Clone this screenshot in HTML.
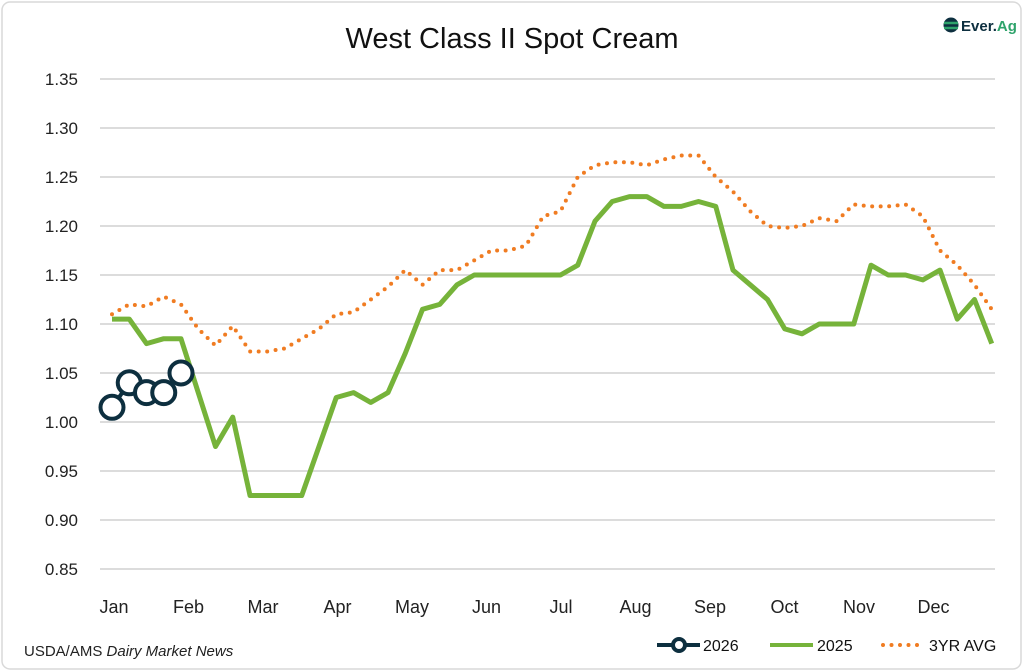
<!DOCTYPE html>
<html><head><meta charset="utf-8"><style>
body{margin:0;background:#fff;font-family:"Liberation Sans",sans-serif;}
#wrap{position:relative;width:1024px;height:672px;overflow:hidden;}
</style></head><body>
<div id="wrap">
<svg id="chart" width="1024" height="672" xmlns="http://www.w3.org/2000/svg">
<rect x="2" y="2" width="1019" height="667" rx="8" fill="#fff" stroke="#d9d9d9" stroke-width="1.5"/>
<text x="512" y="48" text-anchor="middle" font-size="29" fill="#111">West Class II Spot Cream</text>
<g>
<circle cx="951" cy="25" r="7.5" fill="#0d2f3f"/>
<path d="M944 23 h14 M944 28 h14" stroke="#2ea36b" stroke-width="2.5"/>
<text x="961" y="31" font-size="15" font-weight="bold" fill="#0d2f3f">Ever.<tspan fill="#2ea36b">Ag</tspan></text>
</g>
<g id="grid"></g><g id="ylabels"></g><g id="xlabels"></g><g id="series"></g>
<text x="24" y="656" font-size="15" fill="#222">USDA/AMS <tspan font-style="italic">Dairy Market News</tspan></text>
<g>
<g><line x1="657" y1="645" x2="700" y2="645" stroke="#0d2f3f" stroke-width="4"/><circle cx="679" cy="645" r="6" fill="#fff" stroke="#0d2f3f" stroke-width="4"/><text x="703" y="651" font-size="16" fill="#111">2026</text></g>
<g><line x1="770" y1="645" x2="813" y2="645" stroke="#76b33a" stroke-width="4"/><text x="817" y="651" font-size="16" fill="#111">2025</text></g>
<g><line x1="883" y1="645" x2="924" y2="645" stroke="#f07c22" stroke-width="4" stroke-dasharray="0 8.5" stroke-linecap="round"/><text x="929" y="651" font-size="16" fill="#111">3YR AVG</text></g>
</g>
</svg>
</div>
<script>
const months=["Jan","Feb","Mar","Apr","May","Jun","Jul","Aug","Sep","Oct","Nov","Dec"];
const yTicks=[0.85,0.90,0.95,1.00,1.05,1.10,1.15,1.20,1.25,1.30,1.35];
const s2025=[1.105,1.105,1.08,1.085,1.085,1.03,0.975,1.005,0.925,0.925,0.925,0.925,0.975,1.025,1.03,1.02,1.03,1.07,1.115,1.12,1.14,1.15,1.15,1.15,1.15,1.15,1.15,1.16,1.205,1.225,1.23,1.23,1.22,1.22,1.225,1.22,1.155,1.14,1.125,1.095,1.09,1.10,1.10,1.10,1.16,1.15,1.15,1.145,1.155,1.105,1.125,1.08];
const s3yr=[1.11,1.12,1.118,1.128,1.12,1.095,1.078,1.098,1.072,1.072,1.075,1.085,1.095,1.11,1.112,1.125,1.138,1.155,1.14,1.155,1.155,1.165,1.175,1.175,1.18,1.21,1.215,1.25,1.262,1.265,1.265,1.262,1.268,1.272,1.272,1.25,1.235,1.215,1.20,1.198,1.20,1.208,1.205,1.222,1.22,1.22,1.222,1.21,1.175,1.16,1.14,1.115];
const s2026=[1.015,1.04,1.03,1.03,1.05];
const NS="http://www.w3.org/2000/svg";
const x=i=>112+i*17.25;
const y=v=>569-(v-0.85)*980;
function mk(t,a,p){const e=document.createElementNS(NS,t);for(const k in a)e.setAttribute(k,a[k]);document.getElementById(p).appendChild(e);return e;}
yTicks.forEach(v=>{
 const l=mk('line',{x1:100,x2:995,y1:y(v),y2:y(v),stroke:'#d0d0d0','stroke-width':1.5},'grid');
 
 
 const t=mk('text',{x:78,y:y(v)+6,'text-anchor':'end','font-size':17,fill:'#222'},'ylabels');
 t.textContent=v.toFixed(2);
 
 
});
months.forEach((m,i)=>{
 const t=mk('text',{x:114+i*74.5,y:613,'text-anchor':'middle','font-size':18,fill:'#222'},'xlabels');
 t.textContent=m;
 
 
});
const p3=mk('polyline',{points:s3yr.map((v,i)=>x(i)+','+y(v)).join(' '),fill:'none',stroke:'#f07c22','stroke-width':4,'stroke-dasharray':'0 8.5','stroke-linecap':'round'},'series');


const p25=mk('polyline',{points:s2025.map((v,i)=>x(i)+','+y(v)).join(' '),fill:'none',stroke:'#76b33a','stroke-width':5,'stroke-linejoin':'round'},'series');


const p26=mk('polyline',{points:s2026.map((v,i)=>x(i)+','+y(v)).join(' '),fill:'none',stroke:'#0d2f3f','stroke-width':4},'series');


s2026.forEach((v,i)=>{
 const c=mk('circle',{cx:x(i),cy:y(v),r:11.5,fill:'#fff',stroke:'#0d2f3f','stroke-width':4},'series');
 
 
});
</script>
</body></html>
